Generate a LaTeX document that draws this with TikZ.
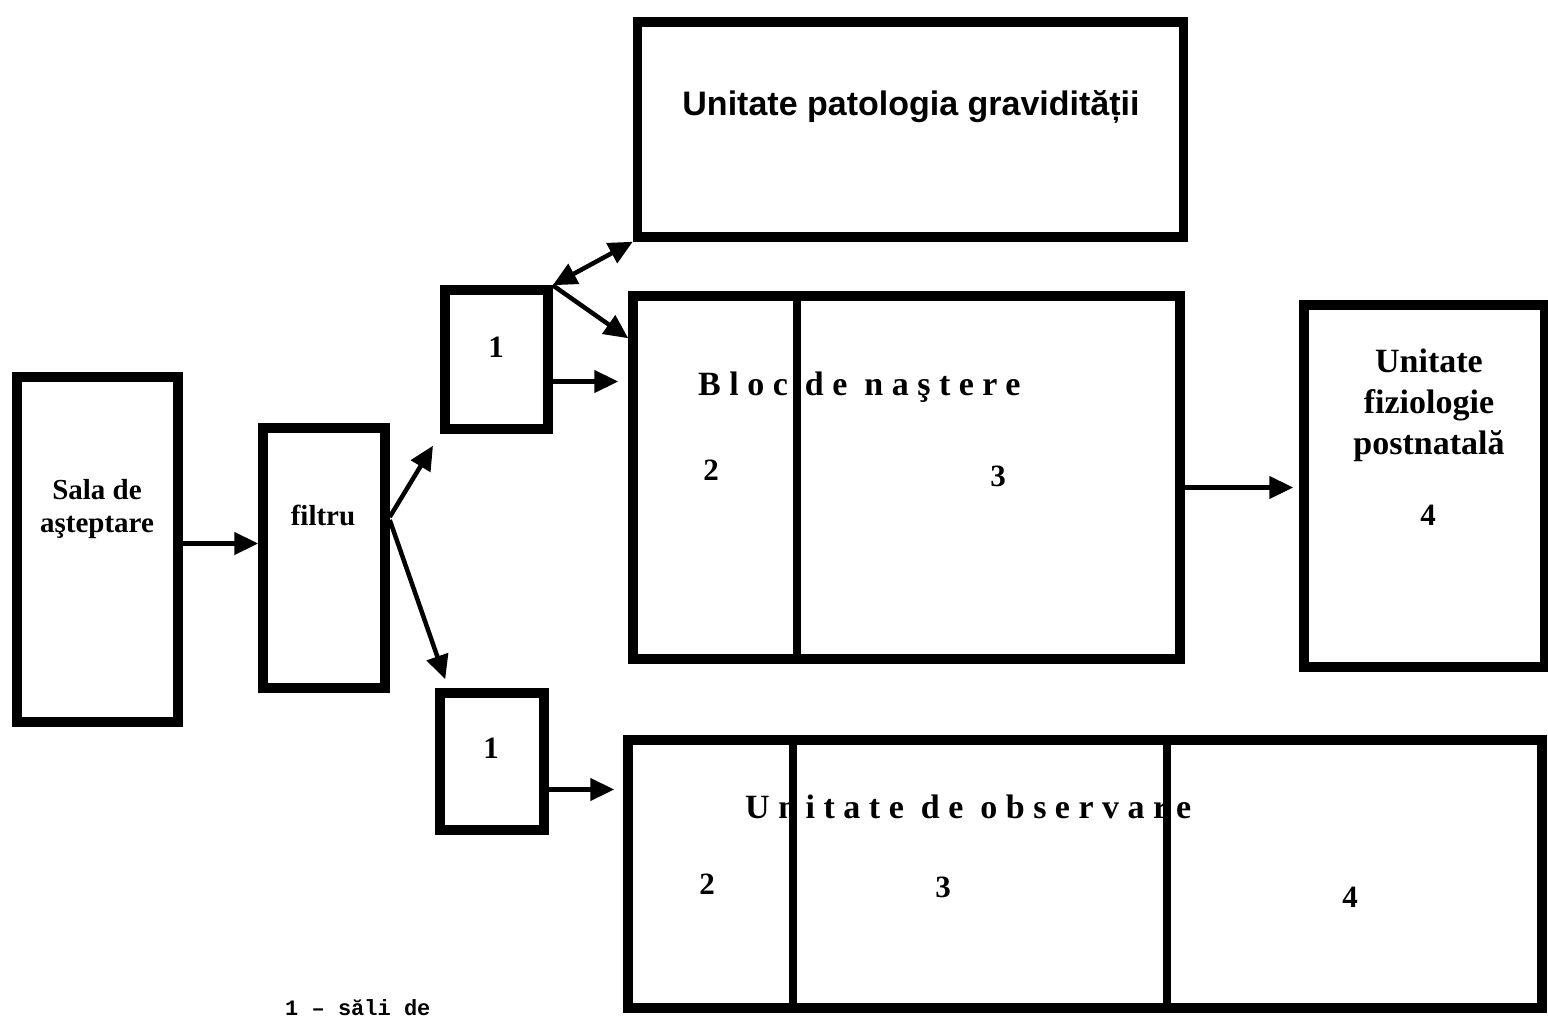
\documentclass[tikz,border=0pt]{standalone}
\usepackage{fontspec}
\setmainfont{Liberation Serif}
\newfontfamily\sansf{Liberation Sans}
\newfontfamily\monof{Liberation Mono}
\newfontfamily\spacedf[LetterSpace=25]{Liberation Serif}
\usetikzlibrary{arrows.meta,calc}
\begin{document}
\begin{tikzpicture}[x=1pt,y=-1pt,
  box/.style={draw, rectangle, line width=9.5pt, inner sep=0pt},
  arr/.style={line width=4.5pt, -{Triangle[length=24pt,width=22pt]}},
  darr/.style={line width=4.5pt, {Triangle[length=24pt,width=22pt]}-{Triangle[length=24pt,width=22pt]}},
  divline/.style={line width=7.5pt},
  lbl/.style={font=\fontsize{29}{33}\selectfont\bfseries, align=center, inner sep=0pt},
  num/.style={font=\fontsize{31}{32}\selectfont\bfseries, inner sep=0pt},
  spaced/.style={font=\spacedf\fontsize{34}{36}\selectfont\bfseries, inner sep=0pt, anchor=base west}
]
\useasboundingbox (0,0) rectangle (1548,1019);
\fill[white] (0,0) rectangle (1548,1019);

% boxes
\node[box, minimum width=161pt, minimum height=345pt] (sala) at (97.5,549.5) {};
\node[box, minimum width=122pt, minimum height=260pt] (filtru) at (324,558) {};
\node[box, minimum width=103pt, minimum height=139pt] (unuA) at (496.5,359.5) {};
\node[box, minimum width=104pt, minimum height=137pt] (unuB) at (492,761.5) {};
\node[box, minimum width=546pt, minimum height=215pt] (pat) at (910.5,129.5) {};
\node[box, minimum width=547pt, minimum height=363pt] (bloc) at (906.5,477.5) {};
\node[box, minimum width=241pt, minimum height=362pt] (fiz) at (1424.5,486) {};
\node[box, minimum width=914pt, minimum height=268pt] (obs) at (1085,874) {};

% texts
\node[lbl] (salaT) at (97,509) {Sala de\\aşteptare};
\node[lbl] (filtruT) at (323,515) {filtru};
\node[num] (unuAT) at (496,347) {1};
\node[num] (unuBT) at (491,748) {1};
\node[font=\sansf\fontsize{34}{36}\selectfont\bfseries, inner sep=0pt] (patT) at (911,107) {Unitate patologia gravidității};
\node[spaced] (blocT) at (698,395) {Bloc de naştere};
\node[num] (b2) at (711,470) {2};
\node[num] (b3) at (998,476) {3};
\node[font=\fontsize{34}{41}\selectfont\bfseries, align=center, inner sep=0pt] (fizT) at (1429,405) {Unitate\\fiziologie\\postnatală};
\node[num] (f4) at (1428,515) {4};
\node[spaced] (obsT) at (745,818) {Unitate de observare};
\node[num] (o2) at (707,884) {2};
\node[num] (o3) at (943,887) {3};
\node[num] (o4) at (1350,897) {4};
\node[font=\monof\fontsize{22}{24}\selectfont\bfseries, anchor=south west, inner sep=0pt] (legend) at (285,1016) {1 – săli de};

% dividers
\draw[divline] (797,0 |- bloc.north) -- (797,0 |- bloc.south);
\draw[divline] (793,0 |- obs.north) -- (793,0 |- obs.south);
\draw[divline] (1167,0 |- obs.north) -- (1167,0 |- obs.south);

% connectors
\draw[arr] ([yshift=6pt]sala.east) -- ([yshift=6pt]sala.east -| filtru.west);
\draw[arr, shorten >=14pt] ([yshift=41pt]filtru.east) -- (unuA.south west);
\draw[arr] ([yshift=38pt]filtru.east) -- ([xshift=10pt,yshift=9pt]unuB.north west);
\draw[darr] (unuA.north east) -- (pat.south west);
\draw[arr] (unuA.north east) -- ([yshift=-47pt]bloc.north west);
\draw[arr, shorten >=10pt] ([yshift=-22pt]unuA.east) -- ([yshift=-22pt]unuA.east -| bloc.west);
\draw[arr, shorten >=6pt] ([yshift=-10pt]bloc.east) -- ([yshift=-10pt]bloc.east -| fiz.west);
\draw[arr, shorten >=9pt] ([yshift=-28pt]unuB.east) -- ([yshift=-28pt]unuB.east -| obs.west);
\end{tikzpicture}
\end{document}
